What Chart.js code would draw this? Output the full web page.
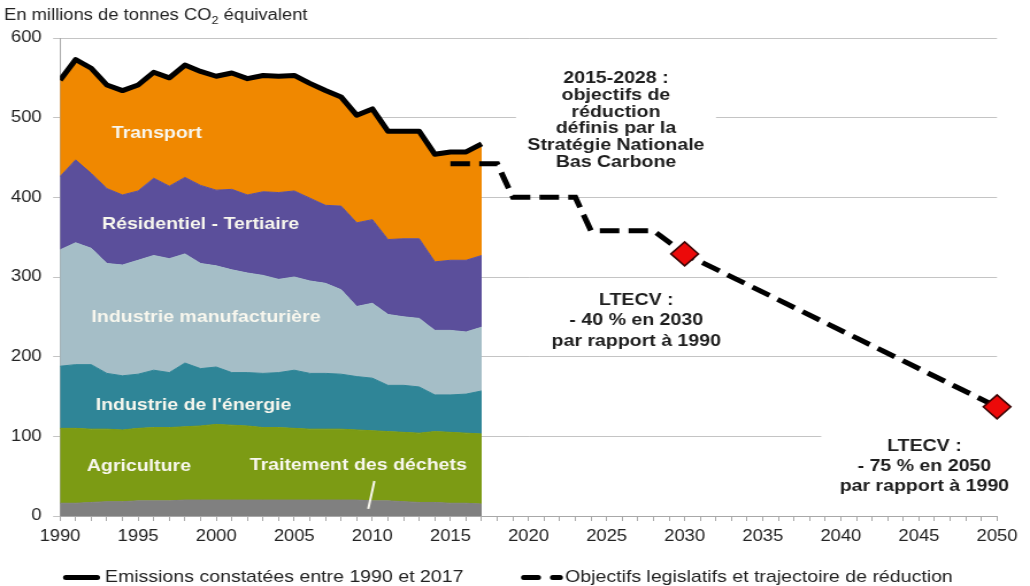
<!DOCTYPE html>
<html lang="fr">
<head>
<meta charset="utf-8">
<title>Emissions de gaz à effet de serre en France</title>
<script src="https://cdn.jsdelivr.net/npm/chart.js@4.4.1/dist/chart.umd.min.js"></script>
<style>
  html, body { margin: 0; padding: 0; background: #fff; overflow: hidden; }
</style>
</head>
<body>
<!-- the drawing surface is laid out narrower and widened on screen -->
<canvas id="chart" width="896" height="586" style="display:block;width:1030px;height:586px"></canvas>
<script>
// Emissions by sector, in millions of tonnes CO2 equivalent
const years = [1990, 1991, 1992, 1993, 1994, 1995, 1996, 1997, 1998, 1999,
               2000, 2001, 2002, 2003, 2004, 2005, 2006, 2007, 2008, 2009,
               2010, 2011, 2012, 2013, 2014, 2015, 2016, 2017];

const dechets        = [16, 16, 17, 18, 18, 19, 19, 19, 20, 20, 20, 20, 20, 20, 20, 20, 20, 20, 20, 20, 19, 19, 18, 17, 17, 16, 16, 15];
const agriculture    = [94, 94, 92, 91, 90, 91, 92, 92, 92, 93, 95, 94, 93, 91, 91, 90, 89, 89, 89, 88, 88, 87, 87, 87, 89, 89, 88, 88];
const energie        = [78, 80, 81, 70, 68, 68, 72, 69, 80, 72, 72, 66, 67, 68, 69, 73, 70, 70, 69, 67, 66, 58, 59, 58, 46, 47, 49, 54];
const manufacturiere = [146, 153, 146, 138, 139, 143, 144, 143, 137, 132, 127, 129, 125, 123, 117, 117, 116, 113, 106, 88, 94, 89, 86, 86, 81, 81, 78, 80];
const residentiel    = [92, 104, 94, 94, 88, 87, 97, 91, 96, 98, 95, 101, 98, 105, 109, 108, 104, 98, 105, 105, 105, 94, 98, 100, 86, 88, 90, 90];
const transport      = [121, 126, 132, 130, 131, 133, 133, 136, 141, 143, 143, 146, 146, 146, 146, 145, 144, 144, 137, 135, 139, 136, 135, 135, 135, 136, 136, 140];
const emissionsTotal = [547, 573, 562, 541, 534, 541, 557, 550, 566, 558, 552, 556, 549, 553, 552, 553, 543, 534, 526, 503, 511, 483, 483, 483, 454, 457, 457, 467];

// Legal targets and reduction path (SNBC budgets, LTECV 2030 and 2050)
const objectifYears  = [2015, 2018, 2019, 2023, 2024, 2028, 2030, 2050];
const objectifValues = [442, 442, 400, 400, 358, 358, 329, 137];
const objectifMarked = [false, false, false, false, false, false, true, true];

// Axis ticks
const xTickLabels = [1990, 1995, 2000, 2005, 2010, 2015, 2020, 2025, 2030, 2035, 2040, 2045, 2050];
const yTickValues = [0, 100, 200, 300, 400, 500, 600];

// Text labels
const sectorLabels = [
  { text: 'Transport', year: 1996.2, value: 480 },
  { text: 'Résidentiel - Tertiaire', year: 1999.0, value: 366 },
  { text: 'Industrie manufacturière', year: 1999.35, value: 250 },
  { text: "Industrie de l'énergie", year: 1998.55, value: 139.5 },
  { text: 'Agriculture', year: 1995.05, value: 62 },
  { text: 'Traitement des déchets', year: 2009.1, value: 64 }
];
const blocSNBC = ['2015-2028 :', 'objectifs de', 'réduction', 'définis par la', 'Stratégie Nationale', 'Bas Carbone'];
const bloc2030 = ['LTECV :', '- 40 % en 2030', 'par rapport à 1990'];
const bloc2050 = ['LTECV :', '- 75 % en 2050', 'par rapport à 1990'];

const FONT = '"Liberation Sans", Arial, Helvetica, sans-serif';
const BLOCKS = [
  { lines: blocSNBC, year: 2025.6, value: 549, step: 16.7, padX: 10, padY: 8 },
  { lines: bloc2030, year: 2026.9, value: 270.5, step: 20.2, padX: 0, padY: 0, noBox: true },
  { lines: bloc2050, year: 2045.35, value: 88, step: 20, padX: 16, padY: 8 }
];

const pts = arr => years.map((yr, i) => ({ x: yr, y: arr[i] }));

function area(label, data, color, fill) {
  return {
    label, data: pts(data), stack: 'secteurs',
    backgroundColor: color, borderColor: color, borderWidth: 1,
    fill, pointRadius: 0, tension: 0
  };
}

const textPlugin = {
  id: 'textes',
  beforeDatasetsDraw(chart) {
    // white panels behind the annotation blocks (they hide the grid lines)
    const { ctx, scales: { x, y } } = chart;
    ctx.save();
    ctx.font = `bold 17px ${FONT}`;
    BLOCKS.forEach(b => {
      if (b.noBox) return;
      const cx = x.getPixelForValue(b.year);
      const y0 = y.getPixelForValue(b.value);
      const w = Math.max(...b.lines.map(l => ctx.measureText(l).width));
      const top = y0 - b.step / 2 - b.padY;
      const bottom = y0 + b.step * (b.lines.length - 0.5) + b.padY;
      ctx.fillStyle = '#ffffff';
      ctx.fillRect(cx - w / 2 - b.padX, top, w + 2 * b.padX, bottom - top);
    });
    ctx.restore();
  },
  afterDatasetsDraw(chart) {
    const { ctx, scales: { x, y } } = chart;
    ctx.save();
    // sector names
    ctx.font = `bold 17px ${FONT}`;
    ctx.fillStyle = '#f8f7ee';
    ctx.textAlign = 'center';
    ctx.textBaseline = 'middle';
    sectorLabels.forEach(s => {
      ctx.fillText(s.text, x.getPixelForValue(s.year), y.getPixelForValue(s.value));
    });
    // pointer to the waste layer
    ctx.strokeStyle = '#f8f7ee';
    ctx.lineWidth = 2;
    ctx.beginPath();
    ctx.moveTo(x.getPixelForValue(2010.13), y.getPixelForValue(44));
    ctx.lineTo(x.getPixelForValue(2009.74), y.getPixelForValue(9));
    ctx.stroke();
    // target annotations
    ctx.fillStyle = '#1e1e1e';
    BLOCKS.forEach(b => {
      const cx = x.getPixelForValue(b.year);
      const y0 = y.getPixelForValue(b.value);
      b.lines.forEach((l, i) => ctx.fillText(l, cx, y0 + i * b.step));
    });
    ctx.restore();
  },
  afterDraw(chart) {
    const { ctx } = chart;
    ctx.save();
    // unit caption
    ctx.fillStyle = '#222';
    ctx.textBaseline = 'alphabetic';
    ctx.textAlign = 'left';
    let tx = 3.5;
    const base = 20;
    ctx.font = `16px ${FONT}`;
    const part1 = 'En millions de tonnes CO';
    ctx.fillText(part1, tx, base);
    tx += ctx.measureText(part1).width;
    ctx.font = `11px ${FONT}`;
    ctx.fillText('2', tx, base + 4);
    tx += ctx.measureText('2').width;
    ctx.font = `16px ${FONT}`;
    ctx.fillText(' équivalent', tx, base);

    // legend
    const ly = 577.5;
    ctx.strokeStyle = '#000';
    ctx.lineWidth = 5;
    ctx.lineCap = 'round';
    ctx.beginPath();
    ctx.moveTo(57.3, ly); ctx.lineTo(84.5, ly);
    ctx.moveTo(455.7, ly); ctx.lineTo(468.1, ly);
    ctx.moveTo(480.9, ly); ctx.lineTo(487.2, ly);
    ctx.stroke();
    ctx.font = `17px ${FONT}`;
    ctx.textBaseline = 'middle';
    ctx.fillStyle = '#222';
    ctx.fillText(chart.data.datasets[0].label, 91.3, ly);
    ctx.fillText(chart.data.datasets[1].label, 491.5, ly);
    ctx.restore();
  }
};

new Chart(document.getElementById('chart'), {
  type: 'line',
  data: {
    datasets: [
      {
        label: 'Emissions constatées entre 1990 et 2017',
        data: pts(emissionsTotal), stack: 'total',
        borderColor: '#000', borderWidth: 5, borderJoinStyle: 'round',
        pointRadius: 0, fill: false, tension: 0
      },
      {
        label: 'Objectifs legislatifs et trajectoire de réduction',
        data: objectifYears.map((yr, i) => ({ x: yr, y: objectifValues[i] })),
        stack: 'objectifs',
        borderColor: '#000', borderWidth: 5, borderDash: [17, 8],
        pointStyle: 'rectRot',
        pointRadius: objectifMarked.map(m => (m ? 12 : 0)),
        pointBackgroundColor: '#ec0a0a', pointBorderColor: '#3a0505', pointBorderWidth: 1.5,
        fill: false, tension: 0, clip: false
      },
      area('Traitement des déchets', dechets, '#808080', 'origin'),
      area('Agriculture', agriculture, '#7c9b14', '-1'),
      area("Industrie de l'énergie", energie, '#2f8597', '-1'),
      area('Industrie manufacturière', manufacturiere, '#a5bec7', '-1'),
      area('Résidentiel - Tertiaire', residentiel, '#5b4f9b', '-1'),
      area('Transport', transport, '#f08800', '-1')
    ]
  },
  options: {
    responsive: false,
    animation: false,
    devicePixelRatio: 1,
    events: [],
    layout: { padding: { top: 38, right: 28.7, left: 0, bottom: 0 } },
    plugins: {
      legend: { display: false },
      title: { display: false },
      tooltip: { enabled: false }
    },
    scales: {
      x: {
        type: 'linear', min: 1990, max: 2050,
        afterBuildTicks: s => {
          const t = [];
          for (let v = s.min; v <= s.max; v++) t.push({ value: v });
          s.ticks = t;
        },
        ticks: {
          autoSkip: false, maxRotation: 0, minRotation: 0, padding: 6,
          color: '#222', font: { family: FONT, size: 16 },
          callback: v => (xTickLabels.includes(v) ? String(v) : '')
        },
        grid: { drawOnChartArea: false, drawTicks: true, tickLength: 5, color: '#a8a8a8' },
        border: { color: '#a8a8a8', width: 1 },
        afterFit: s => { s.height = 70; }
      },
      y: {
        stacked: true, min: 0, max: 600,
        afterBuildTicks: s => { s.ticks = yTickValues.map(v => ({ value: v })); },
        ticks: { padding: 10, color: '#222', font: { family: FONT, size: 16 } },
        grid: { color: '#c4c4c4', lineWidth: 1, drawTicks: true, tickLength: 6 },
        border: { color: '#a8a8a8', width: 1 },
        afterFit: s => { s.width = 52.2; }
      }
    }
  },
  plugins: [textPlugin]
});
</script>
</body>
</html>
